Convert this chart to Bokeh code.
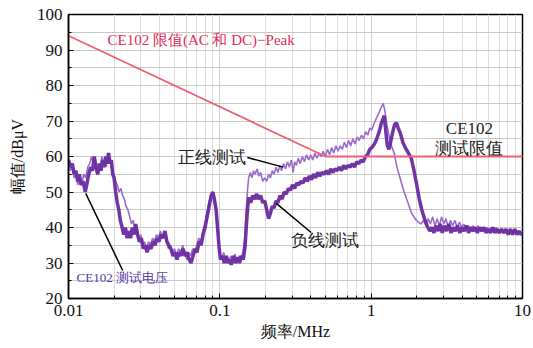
from bokeh.plotting import figure
from bokeh.embed import file_html
from bokeh.resources import INLINE
from bokeh.models import FixedTicker, CustomJSTickFormatter
from bokeh.core.properties import value

# ---------------- data ----------------
limit_freq = [0.01, 0.5, 10.0]
limit_db = [94.0, 60.0, 60.0]

neg_freq = [0.0100, 0.0103, 0.0106, 0.0109, 0.0112, 0.0115, 0.0118, 0.0121, 0.0125, 0.0129,
            0.0132, 0.0136, 0.0140, 0.0144, 0.0148, 0.0152, 0.0156, 0.0160, 0.0164, 0.0168,
            0.0172, 0.0176, 0.0180, 0.0184, 0.0188, 0.0192, 0.0196, 0.0200, 0.0205, 0.0210,
            0.0215, 0.0220, 0.0226, 0.0232, 0.0238, 0.0244, 0.0250, 0.0257, 0.0264, 0.0271,
            0.0278, 0.0286, 0.0294, 0.0303, 0.0312, 0.0321, 0.0331, 0.0341, 0.0351, 0.0362,
            0.0373, 0.0384, 0.0396, 0.0408, 0.0421, 0.0434, 0.0447, 0.0461, 0.0475, 0.0490,
            0.0505, 0.0521, 0.0537, 0.0554, 0.0571, 0.0589, 0.0607, 0.0626, 0.0645, 0.0665,
            0.0686, 0.0707, 0.0729, 0.0752, 0.0775, 0.0799, 0.0824, 0.0850, 0.0876, 0.0900,
            0.0920, 0.0945, 0.0970, 0.0990, 0.1010, 0.1040, 0.1070, 0.1100, 0.1130, 0.1160,
            0.1190, 0.1230, 0.1270, 0.1310, 0.1350, 0.1390, 0.1430, 0.1470, 0.1500, 0.1530,
            0.1560, 0.1600, 0.1650, 0.1700, 0.1750, 0.1800, 0.1860, 0.1920, 0.1980, 0.2040,
            0.2100, 0.2160, 0.2220, 0.2280, 0.2350, 0.2420, 0.2500, 0.2580, 0.2660, 0.2750,
            0.2840, 0.2930, 0.3020, 0.3120, 0.3220, 0.3320, 0.3430, 0.3540, 0.3660, 0.3780,
            0.3900, 0.4030, 0.4160, 0.4300, 0.4440, 0.4590, 0.4740, 0.4900, 0.5060, 0.5230,
            0.5400, 0.5580, 0.5770, 0.5960, 0.6160, 0.6370, 0.6580, 0.6800, 0.7030, 0.7270,
            0.7510, 0.7760, 0.8020, 0.8290, 0.8570, 0.8860, 0.9160, 0.9470, 0.9790, 1.0100,
            1.0500, 1.0900, 1.1300, 1.1700, 1.2200, 1.2500, 1.2800, 1.3100, 1.3500, 1.3900,
            1.4300, 1.4700, 1.5100, 1.5600, 1.6200, 1.6800, 1.7600, 1.8400, 1.9200, 2.0000,
            2.0800, 2.1600, 2.2500, 2.3400, 2.4400, 2.5200, 2.6000, 2.6800, 2.7700, 2.8600,
            2.9500, 3.0500, 3.1500, 3.2600, 3.3700, 3.4800, 3.6000, 3.7200, 3.8500, 3.9800,
            4.1200, 4.2600, 4.4000, 4.5500, 4.7000, 4.8600, 5.0300, 5.2000, 5.3800, 5.5600,
            5.7500, 5.9500, 6.1500, 6.3600, 6.5800, 6.8000, 7.0300, 7.2700, 7.5200, 7.7800,
            8.0500, 8.3200, 8.6000, 8.9000, 9.2000, 9.5000, 9.8000, 10.000]
neg_db = [59, 57, 58, 55, 56, 53, 55, 52, 53, 50,
          52, 55, 57, 56, 60, 57, 55, 58, 56, 59,
          57, 60, 58, 61, 58, 59, 55, 54, 50, 47,
          45, 42, 40, 38, 40, 37, 39, 37, 40, 38,
          41, 38, 36, 37, 34, 35, 33, 35, 34, 36,
          35, 37, 36, 38, 37, 39, 36, 35, 34, 32,
          33, 31, 33, 32, 34, 32, 33, 31, 30, 32,
          34, 33, 36, 35, 38, 40, 43, 46, 49, 50,
          48, 45, 39, 34, 31, 32, 30, 32, 30, 31,
          29.5, 32, 30, 31.5, 30, 32, 31, 35, 41, 46,
          48.5, 47, 49, 48, 49.5, 48, 49, 47, 47.5, 45,
          42.5, 44, 46, 45.5, 47.5, 47, 49, 48, 50, 49.5,
          51, 50.5, 52, 51, 52.5, 52, 53, 52.5, 54, 53,
          54.5, 53.5, 55, 54, 55.5, 54.5, 55.5, 55, 56, 55,
          56.5, 55.5, 56.5, 56, 57, 56, 57.5, 56.5, 57.5, 57,
          58, 57, 58.5, 58, 59, 58.5, 60, 60.5, 62, 62.5,
          63.5, 65, 67, 69.5, 71.5, 67, 63, 62, 64.5, 67,
          69, 69.5, 68, 66.5, 64, 62.5, 61, 59.5, 56, 52,
          48, 45, 42.5, 40.5, 39, 40, 38.5, 40.5, 39, 41,
          38.5, 40.5, 39, 41, 38.5, 40, 39, 40.5, 38.5, 40,
          39, 40.5, 38.5, 40, 39, 40, 38.5, 40, 39, 40,
          38.5, 39.5, 38.5, 40, 38.5, 39.5, 38.5, 39.5, 38.5, 39.5,
          38, 39.5, 38, 39.5, 38, 39, 38, 38.5]

pos_freq = [0.0100, 0.0103, 0.0106, 0.0109, 0.0112, 0.0115, 0.0118, 0.0122, 0.0126, 0.0130,
            0.0134, 0.0138, 0.0142, 0.0146, 0.0150, 0.0154, 0.0158, 0.0162, 0.0166, 0.0170,
            0.0174, 0.0178, 0.0182, 0.0186, 0.0190, 0.0195, 0.0200, 0.0205, 0.0210, 0.0216,
            0.0222, 0.0228, 0.0234, 0.0240, 0.0247, 0.0254, 0.0261, 0.0268, 0.0275, 0.0283,
            0.0291, 0.0300, 0.0309, 0.0318, 0.0328, 0.0338, 0.0348, 0.0359, 0.0370, 0.0381,
            0.0393, 0.0405, 0.0418, 0.0431, 0.0444, 0.0458, 0.0472, 0.0487, 0.0502, 0.0518,
            0.0534, 0.0551, 0.0568, 0.0586, 0.0604, 0.0623, 0.0642, 0.0662, 0.0683, 0.0704,
            0.0726, 0.0749, 0.0772, 0.0796, 0.0821, 0.0847, 0.0873, 0.0895, 0.0915, 0.0940,
            0.0965, 0.0985, 0.1000, 0.1030, 0.1060, 0.1090, 0.1120, 0.1150, 0.1180, 0.1220,
            0.1260, 0.1300, 0.1340, 0.1380, 0.1420, 0.1460, 0.1490, 0.1520, 0.1550, 0.1590,
            0.1630, 0.1670, 0.1710, 0.1760, 0.1810, 0.1860, 0.1920, 0.1980, 0.2040, 0.2100,
            0.2160, 0.2220, 0.2280, 0.2350, 0.2420, 0.2490, 0.2560, 0.2640, 0.2720, 0.2800,
            0.2880, 0.2970, 0.3050, 0.3120, 0.3200, 0.3300, 0.3400, 0.3510, 0.3620, 0.3740,
            0.3860, 0.3980, 0.4110, 0.4240, 0.4380, 0.4520, 0.4670, 0.4820, 0.4980, 0.5140,
            0.5310, 0.5480, 0.5660, 0.5850, 0.6040, 0.6240, 0.6440, 0.6650, 0.6870, 0.7100,
            0.7330, 0.7570, 0.7820, 0.8080, 0.8340, 0.8620, 0.8900, 0.9190, 0.9490, 0.9800,
            1.0100, 1.0500, 1.0900, 1.1300, 1.1700, 1.2000, 1.2300, 1.2700, 1.3100, 1.3600,
            1.4200, 1.4800, 1.5500, 1.6500, 1.7500, 1.8500, 1.9500, 2.0500, 2.1400, 2.2200,
            2.3000, 2.3800, 2.4600, 2.5500, 2.6400, 2.7300, 2.8200, 2.9200, 3.0200, 3.1200,
            3.2300, 3.3400, 3.4600, 3.5800, 3.7000, 3.8300, 3.9600, 4.1000, 4.2500, 4.4000,
            4.5600, 4.7200, 4.8900, 5.0600, 5.2400, 5.4300, 5.6200, 5.8200, 6.0300, 6.2500,
            6.4700, 6.7000, 6.9400, 7.1900, 7.4500, 7.7200, 8.0000, 8.3000, 8.6000, 8.9000,
            9.2000, 9.5000, 9.8000, 10.000]
pos_db = [58, 56, 57, 54, 55, 52, 54, 52, 55, 54,
          57, 58, 60, 58, 59, 55, 57, 56, 60, 58,
          59, 57, 61, 59, 58, 56, 55, 53, 52, 50,
          51, 49, 48, 46, 45, 43, 41, 42, 39, 40,
          37, 38, 35, 36, 34, 36, 35, 37, 36, 38,
          37, 39, 37, 38, 36, 34, 35, 33, 34, 32,
          34, 33, 35, 33, 31, 33, 32, 34, 33, 35,
          37, 36, 39, 41, 44, 47, 49, 50, 49, 46,
          41, 36, 33, 31, 33, 31, 32, 30.5, 32, 31,
          32.5, 30.5, 32, 31, 33, 37, 44, 50, 54, 55.5,
          54, 56, 55, 56.5, 54.5, 55.5, 53, 54, 53, 55,
          54, 56, 55, 57, 55.5, 57.5, 56, 58, 56.5, 58.5,
          57, 59, 55.5, 58.5, 57.5, 59.5, 58, 60, 58.5, 60.5,
          59, 60.5, 59, 61, 59.5, 61, 60, 61.5, 60, 62,
          60.5, 62.5, 61, 63, 61.5, 63, 62, 64, 62.5, 64.5,
          63, 65, 63.5, 65.5, 64.5, 66, 65, 67, 66, 68,
          67.5, 69.5, 71, 72.5, 74, 75, 73, 69, 66, 63,
          61, 57, 54, 50, 47, 44, 42.5, 41.5, 41, 42,
          40.5, 42.5, 41, 43, 40.5, 42.5, 40.5, 43, 41, 42.5,
          40, 42, 40.5, 42, 40, 41.5, 40, 41, 39.5, 40.5,
          39.5, 40.5, 39, 40.5, 39.5, 40, 39, 40, 39, 40,
          39, 40, 38.5, 39.5, 38.5, 39.5, 38.5, 39.5, 38.5, 39.5,
          38.5, 39, 38.5, 39]

# annotation anchors (data space)
lim_label_xy = (0.0181, 92.7)
right_label_x = 4.46
right_label_y = [67.9, 62.3]
pos_label_xy = (0.148, 59.7)
pos_ptr = ([0.152, 0.262], [59.7, 57.0])
neg_label_xy = (0.295, 36.3)
neg_ptr = ([0.236, 0.401], [46.8, 38.6])
volt_label_xy = (0.0113, 25.9)
volt_ptr = ([0.0130, 0.0228], [49.6, 27.9])

SERIF = "Liberation Serif"

p = figure(width=533, height=348, x_axis_type="log",
           x_range=(0.01, 10), y_range=(20, 100),
           output_backend="svg", toolbar_location=None,
           min_border_left=68, min_border_right=11,
           min_border_top=14, min_border_bottom=50)
p.background_fill_color = "white"
p.border_fill_color = "white"
p.outline_line_color = "black"
p.outline_line_width = 1.5

x_minor = [k * 10.0 ** e for e in (-2, -1, 0) for k in range(2, 10)]
p.xaxis.ticker = FixedTicker(ticks=[0.01, 0.1, 1, 10], minor_ticks=x_minor)
p.xaxis.formatter = CustomJSTickFormatter(code="return String(Number(tick.toPrecision(3)));")
p.yaxis.ticker = FixedTicker(ticks=list(range(20, 101, 10)),
                             minor_ticks=list(range(25, 100, 10)))

for ax in (p.xaxis[0], p.yaxis[0]):
    ax.axis_line_color = "black"
    ax.axis_line_width = 1.5
    ax.major_tick_in = 5
    ax.major_tick_out = 0
    ax.minor_tick_in = 3
    ax.minor_tick_out = 0
    ax.major_tick_line_color = "black"
    ax.minor_tick_line_color = "black"
    ax.major_label_text_font = SERIF
    ax.major_label_text_font_size = "17px"
    ax.major_label_text_color = "#111111"
    ax.axis_label_text_font = SERIF
    ax.axis_label_text_font_size = "16px"
    ax.axis_label_text_font_style = "normal"
    ax.axis_label_text_color = "#111111"

p.xaxis.axis_label = "频率/MHz"
p.yaxis.axis_label = "幅值/dBμV"
p.xaxis.major_label_standoff = 6
p.yaxis.major_label_standoff = 6
p.xaxis.axis_label_standoff = 4
p.yaxis.axis_label_standoff = 8

p.xgrid.grid_line_color = "#cfcfcf"
p.xgrid.minor_grid_line_color = "#dedede"
p.ygrid.grid_line_color = "#c8c8c8"
p.ygrid.minor_grid_line_color = "#c8c8c8"

p.line(pos_freq, pos_db, line_color="#9c6ccc", line_width=1.6)
p.line(neg_freq, neg_db, line_color="#6a2aa0", line_width=3.5, line_alpha=0.95)
p.line(limit_freq, limit_db, line_color="#f06070", line_width=1.8)

p.text(x=[lim_label_xy[0]], y=[lim_label_xy[1]], text=["CE102 限值(AC 和 DC)−Peak"],
       text_font=value(SERIF), text_font_size="15px", text_color="#e22a55",
       text_align="left", text_baseline="middle")
p.text(x=[right_label_x, right_label_x], y=right_label_y, text=["CE102", "测试限值"],
       text_font=value(SERIF), text_font_size="17px", text_color="#222222",
       text_align="center", text_baseline="middle")
p.text(x=[pos_label_xy[0]], y=[pos_label_xy[1]], text=["正线测试"],
       text_font=value(SERIF), text_font_size="17px", text_color="#222222",
       text_align="right", text_baseline="middle")
p.text(x=[neg_label_xy[0]], y=[neg_label_xy[1]], text=["负线测试"],
       text_font=value(SERIF), text_font_size="17px", text_color="#222222",
       text_align="left", text_baseline="middle")
p.text(x=[volt_label_xy[0]], y=[volt_label_xy[1]], text=["CE102 测试电压"],
       text_font=value(SERIF), text_font_size="13px", text_color="#5a3aa8",
       text_align="left", text_baseline="middle")
for px_, py_ in (pos_ptr, neg_ptr, volt_ptr):
    p.line(px_, py_, line_color="black", line_width=1.5)

open("out.html", "w").write(file_html(p, INLINE))
